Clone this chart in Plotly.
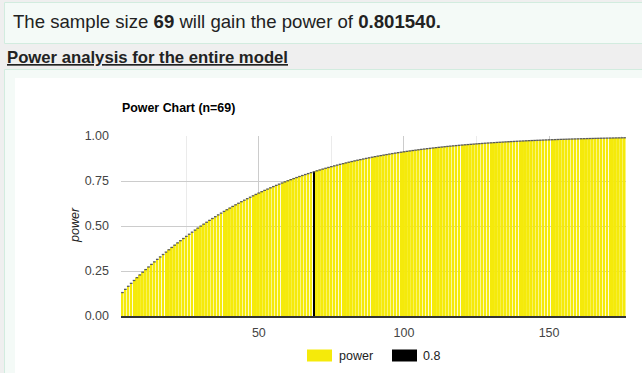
import plotly.graph_objects as go

# ---------------- data ----------------
sample_sizes = list(range(3, 177))
power = [
    0.1303, 0.1481, 0.1650, 0.1814, 0.1974, 0.2129, 0.2282, 0.2432, 0.2579, 0.2724,
    0.2867, 0.3007, 0.3146, 0.3282, 0.3417, 0.3549, 0.3680, 0.3809, 0.3936, 0.4061,
    0.4184, 0.4305, 0.4424, 0.4542, 0.4657, 0.4771, 0.4883, 0.4993, 0.5102, 0.5208,
    0.5313, 0.5416, 0.5517, 0.5617, 0.5714, 0.5810, 0.5904, 0.5997, 0.6088, 0.6177,
    0.6264, 0.6350, 0.6434, 0.6517, 0.6598, 0.6677, 0.6755, 0.6831, 0.6906, 0.6979,
    0.7051, 0.7122, 0.7190, 0.7258, 0.7324, 0.7389, 0.7452, 0.7514, 0.7575, 0.7634,
    0.7692, 0.7749, 0.7805, 0.7859, 0.7912, 0.7965, 0.8015, 0.8065, 0.8114, 0.8161,
    0.8208, 0.8253, 0.8298, 0.8341, 0.8383, 0.8425, 0.8465, 0.8505, 0.8543, 0.8581,
    0.8618, 0.8654, 0.8689, 0.8723, 0.8756, 0.8789, 0.8821, 0.8852, 0.8882, 0.8911,
    0.8940, 0.8968, 0.8996, 0.9023, 0.9049, 0.9074, 0.9099, 0.9123, 0.9147, 0.9170,
    0.9192, 0.9214, 0.9235, 0.9256, 0.9276, 0.9296, 0.9315, 0.9334, 0.9352, 0.9370,
    0.9387, 0.9404, 0.9421, 0.9437, 0.9452, 0.9467, 0.9482, 0.9497, 0.9511, 0.9524,
    0.9537, 0.9550, 0.9563, 0.9575, 0.9587, 0.9599, 0.9610, 0.9621, 0.9632, 0.9642,
    0.9652, 0.9662, 0.9672, 0.9681, 0.9690, 0.9699, 0.9708, 0.9716, 0.9724, 0.9732,
    0.9740, 0.9747, 0.9754, 0.9762, 0.9768, 0.9775, 0.9782, 0.9788, 0.9794, 0.9800,
    0.9806, 0.9812, 0.9817, 0.9822, 0.9828, 0.9833, 0.9837, 0.9842, 0.9847, 0.9851,
    0.9856, 0.9860, 0.9864, 0.9868, 0.9872, 0.9876, 0.9879, 0.9883, 0.9886, 0.9890,
    0.9893, 0.9896, 0.9899, 0.9902,
]
chosen_n = [69]
chosen_power = [0.80154]
series_names = ["power", "0.8"]
x_ticks = [50, 100, 150]
y_ticks = [0.0, 0.25, 0.5, 0.75, 1.0]

header_text = "The sample size <b>69</b> will gain the power of <b>0.801540.</b>"
section_text = "<b>Power analysis for the entire model</b>"
chart_title = "<b>Power Chart (n=69)</b>"
y_title = "power"

# ---------------- layout geometry ----------------
W, H = 642, 373
L, R, T, B = 121, 16, 136, 57
PW, PH = W - L - R, H - T - B
FONT = "Arial, Liberation Sans, sans-serif"
YELLOW = "#f5ea0a"


def px(x):
    return (x - L) / PW


def py(y):
    return (H - B - y) / PH


fig = go.Figure()
fig.add_trace(go.Bar(x=sample_sizes, y=power, name=series_names[0],
                     marker=dict(color=YELLOW, line=dict(width=0)),
                     showlegend=False, hoverinfo="x+y"))
fig.add_trace(go.Scatter(x=sample_sizes, y=power, mode="markers",
                         marker=dict(symbol="line-ew", size=1.9,
                                     line=dict(color="#5a5a5a", width=1.3)),
                         showlegend=False, hoverinfo="skip"))
fig.add_trace(go.Bar(x=chosen_n, y=chosen_power, name=series_names[1],
                     marker=dict(color="#000000", line=dict(width=0)),
                     showlegend=False))

box_fill = "#f4faf7"
box_line = "#d2ecdf"
shapes = [
    dict(type="rect", xref="paper", yref="paper", layer="below",
         x0=px(4.5), x1=px(700), y0=py(43.5), y1=py(2.5),
         fillcolor=box_fill, line=dict(color=box_line, width=1)),
    dict(type="rect", xref="paper", yref="paper", layer="below",
         x0=px(4.5), x1=px(700), y0=py(420), y1=py(69.5),
         fillcolor=box_fill, line=dict(color=box_line, width=1)),
    dict(type="rect", xref="paper", yref="paper", layer="below",
         x0=px(15), x1=px(700), y0=py(420), y1=py(78),
         fillcolor="#ffffff", line=dict(width=0)),
    # legend swatches
    dict(type="rect", xref="paper", yref="paper",
         x0=px(307), x1=px(332), y0=py(361.5), y1=py(349.5),
         fillcolor=YELLOW, line=dict(width=0)),
    dict(type="rect", xref="paper", yref="paper",
         x0=px(392), x1=px(417), y0=py(361.5), y1=py(349.5),
         fillcolor="#000000", line=dict(width=0)),
]

annotations = [
    dict(text=header_text, x=px(11), y=py(21), xref="paper", yref="paper",
         xanchor="left", yanchor="middle", showarrow=False,
         font=dict(family=FONT, size=18.6, color="#222222")),
    dict(text=section_text, x=px(5), y=py(57), xref="paper", yref="paper",
         xanchor="left", yanchor="middle", showarrow=False,
         font=dict(family=FONT, size=16.7, color="#222222", lineposition="under")),
    dict(text=chart_title, x=px(120), y=py(108), xref="paper", yref="paper",
         xanchor="left", yanchor="middle", showarrow=False,
         font=dict(family=FONT, size=12.4, color="#000000")),
    dict(text=y_title, x=px(75), y=py(225), xref="paper", yref="paper",
         xanchor="center", yanchor="middle", showarrow=False, textangle=-90,
         font=dict(family=FONT, size=12.5, color="#222222", style="italic")),
    dict(text=series_names[0], x=px(337), y=py(355.5), xref="paper", yref="paper",
         xanchor="left", yanchor="middle", showarrow=False,
         font=dict(family=FONT, size=12.5, color="#222222")),
    dict(text=series_names[1], x=px(420.5), y=py(355.5), xref="paper", yref="paper",
         xanchor="left", yanchor="middle", showarrow=False,
         font=dict(family=FONT, size=12.5, color="#222222")),
]

fig.update_layout(
    width=W, height=H,
    margin=dict(l=L, r=R, t=T, b=B, pad=0),
    paper_bgcolor="#efefef",
    plot_bgcolor="rgba(0,0,0,0)",
    barmode="overlay",
    bargap=0.32,
    showlegend=False,
    shapes=shapes,
    annotations=annotations,
    font=dict(family=FONT, size=12.5, color="#444444"),
)
fig.update_xaxes(
    range=[2.5, 176.5], tickvals=x_ticks, ticks="", showgrid=True,
    gridcolor="#cccccc", gridwidth=1,
    minor=dict(dtick=25, tick0=0, showgrid=True, gridcolor="#ebebeb", gridwidth=1),
    showline=True, linecolor="#333333", linewidth=1.5, zeroline=False,
    tickfont=dict(family=FONT, size=12.5, color="#444444"),
    ticklabelstandoff=4, fixedrange=True,
)
fig.update_yaxes(
    range=[0, 1], tickvals=y_ticks, tickformat=".2f", ticks="",
    showgrid=True, gridcolor="#cccccc", gridwidth=1, zeroline=False,
    showline=False,
    tickfont=dict(family=FONT, size=12.5, color="#444444"),
    ticklabelstandoff=11, fixedrange=True,
)

fig.write_html("out.html", config={"displayModeBar": False})
